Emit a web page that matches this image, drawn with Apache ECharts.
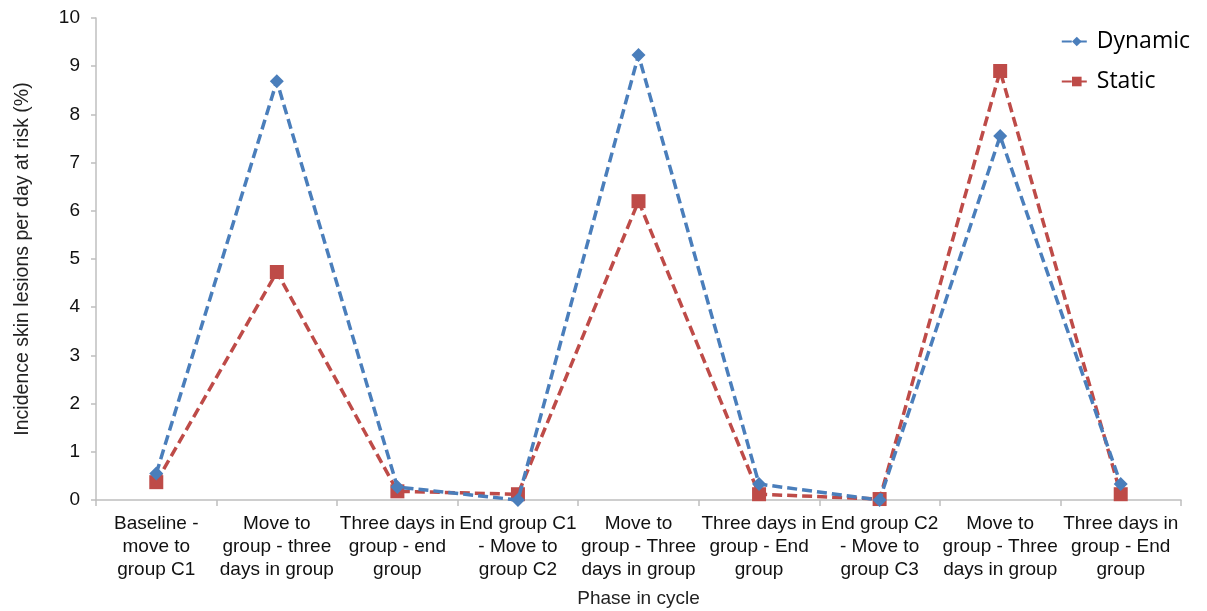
<!DOCTYPE html>
<html>
<head>
<meta charset="utf-8">
<script src="https://cdn.jsdelivr.net/npm/echarts@6/dist/echarts.min.js"></script>
<style>
html,body{margin:0;padding:0;background:#fff;}
#chart{width:1207px;height:611px;}
</style>
</head>
<body>
<div id="chart"></div>
<script>
var categories = [
  "Baseline -\nmove to\ngroup C1",
  "Move to\ngroup - three\ndays in group",
  "Three days in\ngroup - end\ngroup",
  "End group C1\n- Move to\ngroup C2",
  "Move to\ngroup - Three\ndays in group",
  "Three days in\ngroup - End\ngroup",
  "End group C2\n- Move to\ngroup C3",
  "Move to\ngroup - Three\ndays in group",
  "Three days in\ngroup - End\ngroup"
];
var dynamicValues = [0.55, 8.69, 0.27, 0.0, 9.23, 0.33, 0.0, 7.55, 0.33];
var staticValues = [0.37, 4.73, 0.18, 0.12, 6.2, 0.12, 0.02, 8.9, 0.12];
var yTicks = [0, 1, 2, 3, 4, 5, 6, 7, 8, 9, 10];

var chart = echarts.init(document.getElementById('chart'), null, {renderer: 'canvas'});
var font = 'Liberation Sans, Arial, sans-serif';
chart.setOption({
  animation: false,
  backgroundColor: '#fff',
  grid: {left: 96, right: 26, top: 18, bottom: 111, containLabel: false, outerBoundsMode: 'none'},
  legend: {
    orient: 'vertical',
    right: 12,
    top: 25,
    itemGap: 17,
    itemWidth: 30,
    itemHeight: 12,
    textStyle: {fontFamily: 'Open Sans, Liberation Sans, sans-serif', fontSize: 23, color: '#000'},
    data: ['Dynamic', 'Static']
  },
  xAxis: {
    type: 'category',
    data: categories,
    boundaryGap: true,
    name: 'Phase in cycle',
    nameLocation: 'middle',
    nameGap: 89,
    nameTextStyle: {fontFamily: font, fontSize: 19, color: '#222'},
    axisLine: {lineStyle: {color: '#bfbfbf', width: 1.5}},
    axisTick: {show: true, length: 6, lineStyle: {color: '#bfbfbf', width: 1.5}},
    axisLabel: {interval: 0, fontFamily: font, fontSize: 19, color: '#111', lineHeight: 23, margin: 12},
    splitLine: {show: false}
  },
  yAxis: {
    type: 'value',
    min: yTicks[0],
    max: yTicks[yTicks.length - 1],
    interval: 1,
    name: 'Incidence skin lesions per day at risk (%)',
    nameLocation: 'middle',
    nameRotate: 90,
    nameGap: 63,
    nameTextStyle: {fontFamily: font, fontSize: 19.5, color: '#222'},
    axisLine: {show: true, lineStyle: {color: '#bfbfbf', width: 1.5}},
    axisTick: {show: true, length: 5, lineStyle: {color: '#bfbfbf', width: 1.5}},
    axisLabel: {fontFamily: font, fontSize: 19, color: '#111', margin: 16},
    splitLine: {show: false}
  },
  series: [
    {
      name: 'Dynamic',
      type: 'line',
      data: dynamicValues,
      symbol: 'diamond',
      symbolSize: 14,
      color: '#4a7ebb',
      lineStyle: {color: '#4a7ebb', width: 3.5, type: [10, 5]},
      itemStyle: {color: '#4a7ebb'},
      z: 3
    },
    {
      name: 'Static',
      type: 'line',
      data: staticValues,
      symbol: 'rect',
      symbolSize: 14,
      color: '#be4b48',
      lineStyle: {color: '#be4b48', width: 3.5, type: [10, 5]},
      itemStyle: {color: '#be4b48'},
      z: 2
    }
  ]
});
</script>
</body>
</html>
